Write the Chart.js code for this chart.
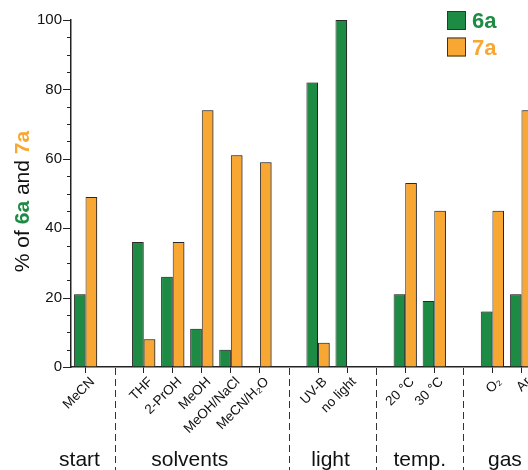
<!DOCTYPE html>
<html>
<head>
<meta charset="utf-8">
<script src="https://cdn.jsdelivr.net/npm/chart.js@4.4.1/dist/chart.umd.min.js"></script>
<style>
  html, body { margin: 0; padding: 0; background: #fff; overflow: hidden; }
  #wrap { width: 536px; height: 470px; position: relative; }
</style>
</head>
<body>
<div id="wrap"><canvas id="chart"></canvas></div>
<script>
// categorias (las vacias separan los grupos)
const categories = ['MeCN', '', 'THF', '2-PrOH', 'MeOH', 'MeOH/NaCl', 'MeCN/H₂O', '', 'UV-B', 'no light', '', '20 °C', '30 °C', '', 'O₂', 'Ar'];
const values6a = [21, null, 36, 26, 11, 5, 0, null, 82, 100, null, 21, 19, null, 16, 21];
const values7a = [49, null, 8, 36, 74, 61, 59, null, 7, 0, null, 53, 45, null, 45, 74];
const groupNames = ['start', 'solvents', 'light', 'temp.', 'gas'];
const groupFirst = [0, 2, 8, 11, 14];
const groupLast = [0, 6, 9, 12, 15];
const yTicks = [0, 20, 40, 60, 80, 100];

const GREEN = '#1e8b45';
const ORANGE = '#f8a732';
const FONT = '"Liberation Sans", Arial, sans-serif';
// pequeño ajuste horizontal de los nombres de grupo (px)
const groupNudge = [-6, -12, -2, 0, -2];

const shadow = {
  id: 'shadow',
  beforeDatasetsDraw(chart) {
    const ctx = chart.ctx;
    ctx.save();
    ctx.shadowColor = 'rgba(0,0,0,0.35)';
    ctx.shadowOffsetX = 1.5;
    ctx.shadowOffsetY = 0;
    ctx.shadowBlur = 0;
  },
  afterDatasetsDraw(chart) {
    chart.ctx.restore();
  }
};

const extras = {
  id: 'extras',
  afterDraw(chart) {
    const ctx = chart.ctx;
    const x = chart.scales.x;
    const y = chart.scales.y;
    const area = chart.chartArea;
    ctx.save();

    // marcas del eje y (mayores cada 20, menores cada 5)
    ctx.strokeStyle = '#222';
    ctx.lineWidth = 1;
    for (let v = 0; v <= 100; v += 5) {
      const py = Math.round(y.getPixelForValue(v)) + 0.5;
      const len = v % 20 === 0 ? 8 : 4;
      ctx.beginPath();
      ctx.moveTo(area.left - len, py);
      ctx.lineTo(area.left, py);
      ctx.stroke();
    }

    // separadores discontinuos
    ctx.setLineDash([7, 4]);
    ctx.strokeStyle = '#333';
    categories.forEach((c, i) => {
      if (c !== '') return;
      const px = Math.round(x.getPixelForValue(i)) + 0.5;
      ctx.beginPath();
      ctx.moveTo(px, area.bottom + 1);
      ctx.lineTo(px, chart.height);
      ctx.stroke();
    });
    ctx.setLineDash([]);

    // nombres de grupo
    ctx.fillStyle = '#111';
    ctx.font = '21px ' + FONT;
    ctx.textAlign = 'center';
    ctx.textBaseline = 'alphabetic';
    groupNames.forEach((g, i) => {
      const px = x.getPixelForValue((groupFirst[i] + groupLast[i]) / 2) + groupNudge[i];
      ctx.fillText(g, px, chart.height - 4);
    });

    // titulo del eje y con colores
    const parts = [['% of ', '#111', ''], ['6a', GREEN, 'bold '], [' and ', '#111', ''], ['7a', ORANGE, 'bold ']];
    let total = 0;
    parts.forEach(p => { ctx.font = p[2] + '21px ' + FONT; total += ctx.measureText(p[0]).width; });
    ctx.translate(29, (area.top + area.bottom) / 2 + 8);
    ctx.rotate(-Math.PI / 2);
    let cx = -total / 2;
    ctx.textAlign = 'left';
    parts.forEach(p => {
      ctx.font = p[2] + '21px ' + FONT;
      ctx.fillStyle = p[1];
      ctx.fillText(p[0], cx, 0);
      cx += ctx.measureText(p[0]).width;
    });
    ctx.setTransform(1, 0, 0, 1, 0, 0);

    // leyenda
    const items = [['6a', GREEN], ['7a', ORANGE]];
    items.forEach((it, i) => {
      const by = 11 + i * 26.5;
      ctx.fillStyle = it[1];
      ctx.fillRect(447, by, 19, 19);
      ctx.strokeStyle = '#333';
      ctx.lineWidth = 1;
      ctx.strokeRect(447.5, by + 0.5, 18, 18);
      ctx.font = 'bold 22px ' + FONT;
      ctx.textAlign = 'left';
      ctx.fillText(it[0], 472, by + 17);
    });

    ctx.restore();
  }
};

new Chart(document.getElementById('chart'), {
  type: 'bar',
  data: {
    labels: categories,
    datasets: [
      { label: '6a', data: values6a, backgroundColor: GREEN, borderColor: '#2a2a2a', borderWidth: 1 },
      { label: '7a', data: values7a, backgroundColor: ORANGE, borderColor: '#2a2a2a', borderWidth: 1 }
    ]
  },
  options: {
    responsive: true,
    maintainAspectRatio: false,
    animation: false,
    layout: { padding: { top: 20, left: 0, right: 0, bottom: 0 } },
    datasets: { bar: { barPercentage: 1, categoryPercentage: 0.8 } },
    plugins: { legend: { display: false }, tooltip: { enabled: false } },
    scales: {
      x: {
        offset: true,
        grid: {
          offset: false,
          drawOnChartArea: false,
          tickLength: 6,
          color: ctx => (categories[ctx.index] === '' ? 'rgba(0,0,0,0)' : '#222')
        },
        border: { display: true, color: '#222', width: 1.5 },
        ticks: {
          autoSkip: false,
          maxRotation: 45,
          minRotation: 45,
          padding: 1,
          labelOffset: 7,
          color: '#111',
          font: { family: FONT, size: 13.5 }
        },
        afterFit: s => { s.height = 103; }
      },
      y: {
        min: 0,
        max: 100,
        afterBuildTicks: s => { s.ticks = yTicks.map(v => ({ value: v })); },
        grid: { display: true, drawOnChartArea: false, drawTicks: false },
        border: { display: true, color: '#222', width: 1.5 },
        ticks: { padding: 9, color: '#111', font: { family: FONT, size: 15 } },
        afterFit: s => { s.width = 71; }
      }
    }
  },
  plugins: [shadow, extras]
});
</script>
</body>
</html>
